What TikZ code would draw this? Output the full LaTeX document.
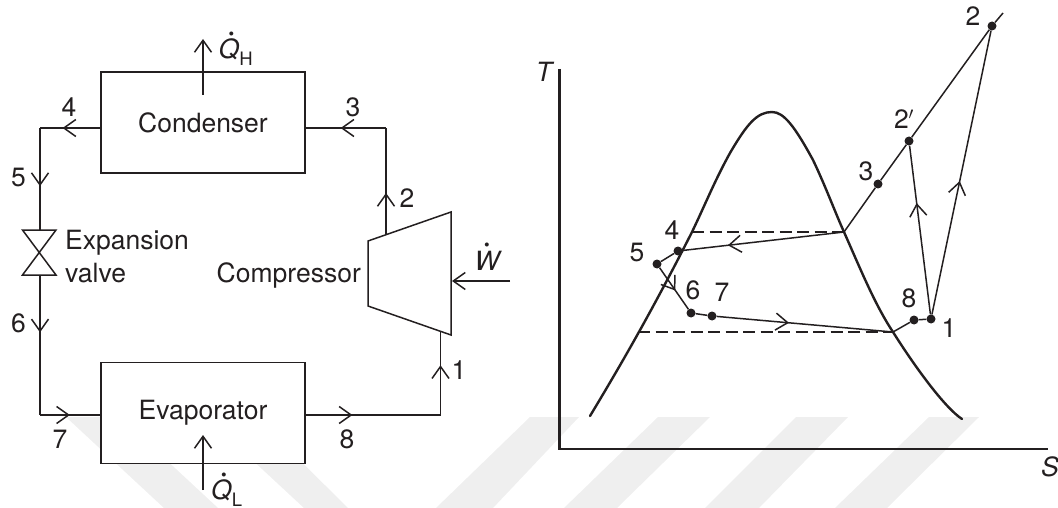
\documentclass[tikz,border=0pt]{standalone}
\usepackage{fontspec}
\setmainfont{TeX Gyre Heros}
\usetikzlibrary{arrows.meta, decorations.markings}
\definecolor{inkc}{HTML}{231F20}
\definecolor{bandc}{HTML}{EFEFEF}
\newcommand{\topdot}[2]{\makebox[0pt][l]{\hspace{#2}\raisebox{19.5pt}{\fontsize{16}{16}\selectfont\textbullet}}\textit{#1}}
\newcommand{\lowtxt}[1]{\raisebox{-6.5pt}{\fontsize{18.5}{18.5}\selectfont #1}}

\begin{document}
\begin{tikzpicture}[x=1pt, y=-1pt, color=inkc,
    every node/.style={font=\fontsize{26.5}{31}\selectfont, inner sep=0pt},
    >={Straight Barb[length=12pt, width=17pt]},
    pipe/.style={line width=1.5pt},
    unit/.style={draw, fill=white, line width=1.5pt, minimum width=204pt, minimum height=101pt},
    dot/.style={circle, fill=inkc, minimum size=9pt},
    axis/.style={line width=2.2pt},
    dome/.style={line width=2.4pt, line cap=round},
    band/.style={fill=bandc},
    flow/.style={pipe, postaction={decorate}, decoration={markings, mark=at position #1 with {\arrow{>}}}}]
    \useasboundingbox (0,0) rectangle (1058,508);

    \fill[band] (66,417) -- (120,417) -- (218,508) -- (164,508) -- cycle;
    \fill[band] (206,417) -- (256,417) -- (348,508) -- (304,508) -- cycle;
    \fill[band] (530,417) -- (579,417) -- (493,508) -- (436,508) -- cycle;
    \fill[band] (658,417) -- (710,417) -- (617,508) -- (564,508) -- cycle;
    \fill[band] (796,417) -- (848,417) -- (759,508) -- (705,508) -- cycle;
    \fill[band] (929,417) -- (979,417) -- (887,508) -- (835,508) -- cycle;

    \node[unit] (condenser) at (203,122.5) {Condenser};
    \node[unit] (evaporator) at (203,413) {Evaporator};
    \coordinate (cpA) at (368,241);
    \coordinate (cpB) at (451,212);
    \coordinate (cpC) at (451,335);
    \coordinate (cpD) at (368,306);
    \draw[pipe, line join=miter] (cpA) -- (cpB) -- (cpC) -- (cpD) -- cycle;
    \coordinate (vaTL) at (22.5,230);
    \coordinate (vaTR) at (56,230);
    \coordinate (vaBL) at (22.5,275);
    \coordinate (vaBR) at (56,275);
    \draw[pipe] (vaTL) -- (vaTR) -- (vaBL) -- (vaBR) -- cycle;

    \coordinate (cdL) at (101,128);
    \coordinate (cdR) at (305,128);
    \coordinate (cnrTL) at (40,128);
    \coordinate (cnrTR) at (386,128);
    \coordinate (vaIn) at (40,230);
    \coordinate (vaOut) at (40,275);
    \coordinate (cnrBL) at (40,415);
    \coordinate (evL) at (101,415);
    \coordinate (evR) at (305,415);
    \coordinate (cnrBR) at (440.5,415);
    \coordinate (cpIn) at (440.5,332);
    \coordinate (cpOut) at (386,234.5);
    \coordinate (qhA) at (203,95);
    \coordinate (qhB) at (203,39);
    \coordinate (qlA) at (203,490);
    \coordinate (qlB) at (203,435);
    \coordinate (wA) at (510,281);
    \coordinate (wB) at (452,281);

    \draw[flow=0.63] (cdL) -- (cnrTL);
    \draw[flow=0.57] (cnrTL) -- (vaIn);
    \draw[flow=0.41] (vaOut) -- (cnrBL);
    \draw[flow=0.49] (cnrBL) -- (evL);
    \draw[flow=0.35] (evR) -- (cnrBR);
    \draw[flow=0.60] (cnrBR) -- (cpIn);
    \draw[flow=0.39] (cpOut) -- (cnrTR);
    \draw[flow=0.56] (cnrTR) -- (cdR);
    \draw[pipe, ->] (qhA) -- (qhB);
    \draw[pipe, ->] (qlA) -- (qlB);
    \draw[pipe, ->] (wA) -- (wB);

    \node[anchor=base west] (labQH) at (218.5,59) {\topdot{Q}{10pt}\lowtxt{H}};
    \node[anchor=base west] (labQL) at (211,499.5) {\topdot{Q}{10pt}\lowtxt{L}};
    \node[anchor=base west] (labW) at (474.5,270) {\topdot{W}{9.5pt}};
    \node (lab4) at (69,107) {4};
    \node (lab3) at (353,107) {3};
    \node (lab5) at (18.5,178) {5};
    \node (lab2) at (407,198) {2};
    \node (lab6) at (18.5,323) {6};
    \node (lab7) at (60,439) {7};
    \node (lab8) at (347,439) {8};
    \node (lab1) at (459,370) {1};
    \node[anchor=west] (labExp) at (65,243) {Expansion};
    \node[anchor=west] (labVal) at (65,273) {valve};
    \node[anchor=east] (labCmp) at (361,275) {Compressor};

    \coordinate (axT) at (559.5,69);
    \coordinate (axO) at (559.5,449);
    \coordinate (axS) at (1047.5,449);
    \draw[axis] (axT) -- (axO) -- (axS);
    \node (labT) at (544,72) {\itshape T};
    \node (labS) at (1050,467) {\itshape S};
    \draw[dome] (590,416) .. controls (625,358) and (655,305) .. (692,232) .. controls (705,205) and (715,180) .. (730,153) .. controls (747,124) and (757,112) .. (772,112) .. controls (784,112) and (795,127) .. (813,160) .. controls (825,185) and (835,212) .. (844,232) .. controls (860,268) and (875,305) .. (893,332) .. controls (915,367) and (945,408) .. (962,419);

    \coordinate (satLup) at (692,232);
    \coordinate (satLlo) at (638,332);
    \coordinate (satRup) at (844,232);
    \coordinate (satRlo) at (893,332);
    \coordinate (isoEnd) at (1003,13);
    \draw[pipe, dash pattern=on 12pt off 5.5pt] (satLup) -- (satRup);
    \draw[pipe, dash pattern=on 12pt off 5.5pt] (satLlo) -- (satRlo);

    \node[dot] (pt4) at (678,251) {};
    \node[dot] (pt5) at (657,264) {};
    \node[dot] (pt6) at (691,313) {};
    \node[dot] (pt7) at (712,316) {};
    \node[dot] (pt8) at (914,320) {};
    \node[dot] (pt1) at (931,319) {};
    \node[dot] (pt3) at (878,184) {};
    \node[dot] (pt2p) at (909,141) {};
    \node[dot] (pt2) at (992,26) {};

    \draw[pipe] (satRup) -- (pt3);
    \draw[pipe] (pt3) -- (pt2p);
    \draw[pipe] (pt2p) -- (pt2);
    \draw[pipe] (pt2) -- (isoEnd);
    \draw[flow=0.72] (satRup) -- (pt4);
    \draw[pipe] (pt4) -- (pt5);
    \draw[flow=0.55] (pt5) -- (pt6);
    \draw[pipe] (pt6) -- (pt7);
    \draw[flow=0.41] (pt7) -- (satRlo);
    \draw[pipe] (satRlo) -- (pt8);
    \draw[pipe] (pt8) -- (pt1);
    \draw[flow=0.66] (pt1) -- (pt2p);
    \draw[flow=0.47] (pt1) -- (pt2);

    \node (num4) at (672,230) {4};
    \node (num5) at (637,253) {5};
    \node (num6) at (693,290) {6};
    \node (num7) at (722,292) {7};
    \node (num8) at (909,298) {8};
    \node (num1) at (949,328) {1};
    \node (num3) at (866,171) {3};
    \node (num2p) at (904,119) {2$'$};
    \node (num2) at (973,16) {2};
\end{tikzpicture}
\end{document}
